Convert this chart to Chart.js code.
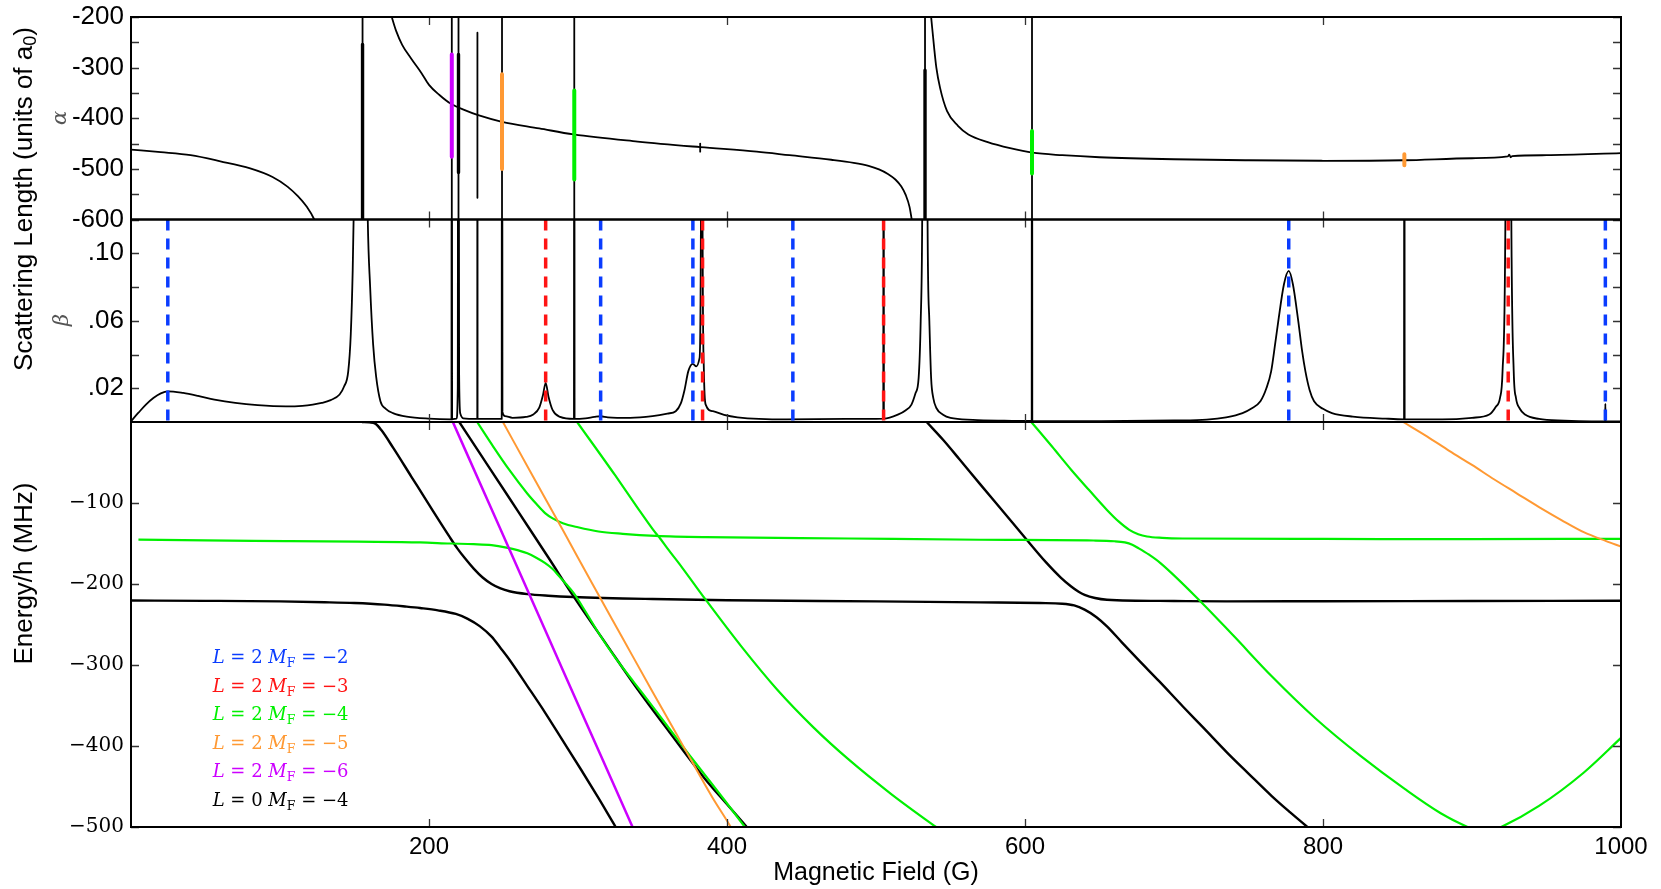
<!DOCTYPE html>
<html>
<head>
<meta charset="utf-8">
<script src="https://cdn.jsdelivr.net/npm/chart.js@4.4.1/dist/chart.umd.min.js"></script>
<style>
  html, body { margin: 0; padding: 0; background: #fff; }
  #wrap { position: relative; width: 1661px; height: 889px; }
</style>
</head>
<body>
<div id="wrap"><canvas id="chart" width="1661" height="889"></canvas></div>
<script>
// ---- axis ticks ----
const fieldTicks = [200, 400, 600, 800, 1000];
const alphaTicks = [-600, -550, -500, -450, -400, -350, -300, -250, -200];
const betaTicks = [0.02, 0.04, 0.06, 0.08, 0.10];
const energyTicks = [-500, -400, -300, -200, -100];

// ---- alpha (real part of scattering length), [B, alpha] ----
const alphaBelow = [[0,-462],[20,-467],[40,-473],[60,-485],[80,-499],[95,-516],[105,-535],[112,-554],[118,-575],[123,-600],[125,-615]];
const alphaMid = [[174,-190],[175,-200],[178,-228],[182,-255],[188,-282],[195,-311],[200,-334],[207,-354],[215,-372],[224,-384],[233,-394],[249,-407],[274,-420],[297,-432],[340,-446],[382,-457],[420,-466],[442,-473],[470,-482],[485,-488],[495,-494],[502,-501],[508,-510],[513,-521],[517,-535],[520,-552],[522.5,-575],[524,-600],[525,-615]];
const alphaAbove = [[536.5,-185],[537,-200],[539,-260],[540.5,-300],[543,-340],[547.7,-386],[555,-415],[562,-432],[575,-447],[590,-459],[605,-468],[625,-473],[650,-477],[700,-481],[750,-483],[800,-484],[854,-483],[900,-479],[924,-475.5],[925,-472],[926,-477],[927,-475],[950,-473],[1000,-469]];

// narrow resonances in alpha, [B, low, high]
const alphaL0Spikes = [[155.4,-600,-200],[215.3,-600,-200],[219.8,-600,-200],[232.5,-557,-231],[249.0,-600,-200],[297.5,-600,-200],[382.0,-466,-450],[532.9,-600,-200],[604.7,-600,-200]];
const alphaL0Cores = [[155.4,-600,-254],[219.8,-507,-274],[532.9,-600,-305]];
const alphaMF4Spikes = [[297.5,-521,-345],[604.7,-509,-425]];
const alphaMF5Spikes = [[249.0,-500,-313],[854.6,-493,-471]];
const alphaMF6Spikes = [[215.3,-476,-274]];

// ---- beta (imaginary part), [B, beta] ----
const betaCurve = [[0,0.0005],[5,0.0055],[10,0.0103],[15,0.0142],[20,0.0170],[24.7,0.0182],[35,0.0172],[45,0.0155],[56,0.0133],[70,0.0113],[85,0.0100],[104,0.0093],[115,0.0096],[122,0.0103],[128,0.0113],[134,0.0130],[140,0.0163],[143,0.0210],[145.8,0.0300],[147.5,0.0520],[148.8,0.0900],[149.4,0.1200],[151,0.2500],[154,0.6000],[157,0.2500],[158.9,0.1200],[160.5,0.0800],[162.5,0.0460],[164.5,0.0270],[167.4,0.0123],[171,0.0078],[175.8,0.0053],[185,0.0032],[199.7,0.0020],[215.1,0.0016],[215.3,0.5000],[215.5,0.0016],[218.5,0.0020],[219.3,0.0200],[219.7,0.5000],[220.2,0.0300],[221,0.0050],[223,0.0022],[232.4,0.0018],[232.5,0.5000],[232.6,0.0018],[248.8,0.0018],[249.0,0.5000],[249.3,0.0060],[251,0.0035],[256,0.0025],[265,0.0030],[270,0.0045],[274,0.0085],[276.5,0.0160],[278.3,0.0232],[280.2,0.0150],[283,0.0070],[288,0.0030],[297.3,0.0018],[297.5,0.5000],[297.7,0.0018],[305,0.0022],[311,0.0030],[315.2,0.0034],[320,0.0028],[335,0.0025],[350,0.0035],[360,0.0050],[365.6,0.0064],[369,0.0110],[371.5,0.0190],[374,0.0300],[377,0.0345],[379.4,0.0330],[381.6,0.0380],[382.5,0.1200],[383,0.5000],[383.6,0.1200],[384.5,0.0300],[385.7,0.0103],[390.5,0.0064],[398,0.0042],[407,0.0028],[440,0.0016],[480,0.0018],[504.9,0.0020],[505.1,0.5000],[505.3,0.0020],[515,0.0045],[520,0.0070],[523.8,0.0103],[526.5,0.0170],[528.6,0.0260],[530,0.0600],[531,0.1200],[533,0.6000],[534.6,0.1200],[535.8,0.0600],[537,0.0260],[538.5,0.0140],[540.5,0.0083],[545,0.0043],[550,0.0024],[565,0.0013],[586,0.0008],[604.5,0.0006],[604.7,0.5000],[604.9,0.0006],[620,0.0005],[650,0.0005],[700,0.0009],[722,0.0014],[735,0.0028],[746,0.0053],[752,0.0080],[758,0.0123],[762,0.0200],[765.2,0.0300],[768,0.0470],[770,0.0598],[773.8,0.0816],[777,0.0895],[779.8,0.0816],[783.4,0.0598],[786,0.0420],[788.2,0.0300],[791,0.0190],[794,0.0123],[800,0.0078],[806,0.0053],[820,0.0032],[842,0.0020],[854.4,0.0016],[854.6,0.5000],[854.8,0.0016],[880,0.0016],[900,0.0025],[911.6,0.0044],[916,0.0090],[918.8,0.0143],[920.5,0.0300],[922.4,0.1200],[924.3,0.6000],[926.4,0.1200],[928,0.0300],[929.5,0.0143],[932,0.0080],[935.6,0.0044],[945,0.0018],[962,0.0008],[980,0.0004],[989.3,0.0004],[989.5,0.0107],[989.7,0.0004],[1000,0.0003]];

// resonance positions by channel (dashed markers)
const markersMF2 = [24.7, 315.2, 377.1, 444.2, 777.0, 989.5];
const markersMF3 = [278.3, 383.6, 505.1, 924.3];

// ---- bound-state energies, [B, E/h in MHz] ----
const energyL0a = [[0,-220.4],[50,-220.8],[100,-221.5],[130,-222.5],[150,-223.5],[170,-225.5],[185,-228],[194,-229.7],[206,-232.5],[218,-237],[226,-243],[234,-252],[242,-265],[248,-279],[254,-293.5],[266,-326],[278,-359],[290,-394],[302,-429],[314,-465],[325.3,-500],[330,-514]];
const energyL0b = [[155,0],[160,-0.4],[164,-2],[168,-10],[176,-32],[188,-67],[200,-102],[207,-122.5],[213.5,-141],[219,-156],[224,-168],[230,-181],[236,-192],[242,-200],[248,-205.5],[254,-209],[266,-212.5],[280,-214.5],[297,-216],[350,-218.5],[400,-220],[500,-221.5],[570,-222.7],[610,-223.5],[625,-224.3],[633,-226.5],[640,-231.7],[648,-241],[655,-252.3],[665,-272],[676,-293.4],[690,-320],[705.8,-350.9],[720,-378],[735.8,-408.4],[750,-434],[765.6,-461.8],[778,-482],[789.5,-500],[796,-511]];
const energyL0c = [[220.3,0],[240,-55],[260,-111],[280,-167],[297,-215.3],[320,-277],[340,-330],[361.7,-383.7],[385,-440],[400,-472],[413.3,-500],[418,-510]];
const energyL0d = [[534,0],[545,-22],[556,-46],[570,-77],[586,-112],[601,-145],[614,-173],[624,-192],[631,-203],[636,-209.5],[640,-213.3],[647,-217.3],[655,-219.4],[700,-221],[735.8,-221.5],[800,-221.3],[900,-221],[1000,-220.6]];
const energyMF4a = [[5,-145.3],[50,-146.2],[104,-147],[152,-147.8],[194,-148.7],[214,-150],[230,-150.8],[242,-152],[252,-155],[260,-158.5],[266,-162],[272,-167.5],[278,-174.2],[283,-181.5],[287.4,-190.6],[292,-200],[297,-211],[305,-234],[313.8,-260.5],[325,-291],[337.8,-322],[350,-351],[361.7,-379.6],[373,-407],[385.7,-437],[398,-466],[412,-500],[416,-510]];
const energyMF4b = [[232.3,0],[243,-30],[253.9,-59.2],[265.8,-87.9],[272,-101],[277.9,-112.5],[283,-119],[289.8,-124.9],[300,-130],[313.8,-135.2],[330,-138],[352.1,-140.5],[385.7,-142.1],[481.6,-143.8],[569.8,-145.4],[646,-146.3],[660,-147.2],[667,-148.7],[672,-151.5],[676,-155.6],[683,-163.5],[690.9,-174.2],[717.8,-221.5],[740,-264],[765.6,-313.9],[795,-366],[825.4,-412.5],[855.3,-453.6],[879,-483],[897,-500],[908,-508],[919.6,-500],[945,-474],[974.9,-433],[1000,-390]];
const energyMF4c = [[299.4,0],[325,-66],[340,-106],[350,-132],[352.5,-138],[355,-143.5],[360,-156],[370,-180],[385.7,-219.4],[410,-278],[433.6,-330.3],[458,-377],[481.6,-416.6],[510,-459],[540.3,-500],[548,-510]];
const energyMF4d = [[604.2,0],[618,-30],[631.1,-59.2],[643,-84],[655,-108.5],[663,-123],[670,-133.1],[676,-138.5],[681.9,-141.4],[692,-143],[705.8,-143.8],[800,-144.4],[900,-144.6],[1000,-144.2]];
const energyMF5a = [[249.6,0],[270,-68],[290,-134],[310,-201],[330,-267],[350,-333],[370,-398],[390,-463],[402.5,-500],[406,-512]];
const energyMF5b = [[853.8,0],[870,-18],[885,-36],[900,-53],[915,-71],[930,-88],[945,-105],[960,-121],[975,-136],[990,-147],[1000,-153.7]];
const energyMF6 = [[216,0],[240,-99.5],[265,-203],[290,-307],[315,-410.5],[336.6,-500],[340,-514]];

// legend rows: [L, M_F]
const legendRows = [['2', '\u22122'], ['2', '\u22123'], ['2', '\u22124'], ['2', '\u22125'], ['2', '\u22126'], ['0', '\u22124']];

// ---- styling ----
const C_MF2 = '#0a3cff';
const C_MF3 = '#ff1414';
const C_MF4 = '#00f000';
const C_MF5 = '#ff9933';
const C_MF6 = '#cc00ff';
const C_L0 = '#000000';
const legendColors = [C_MF2, C_MF3, C_MF4, C_MF5, C_MF6, C_L0];

const SANS = '"Liberation Sans", Arial, Helvetica, sans-serif';
const SERIF = '"DejaVu Serif", "Liberation Serif", serif';

function curve(list, axis, color, width, order, smooth) {
  const ds = {
    data: list.map(p => ({ x: p[0], y: p[1] })),
    yAxisID: axis,
    borderColor: color,
    borderWidth: width,
    borderJoinStyle: 'round',
    pointRadius: 0,
    tension: 0,
    fill: false,
    order: order
  };
  if (smooth) ds.cubicInterpolationMode = 'monotone';
  return ds;
}

function spikes(list, axis, color, width, order) {
  return list.map(s => curve([[s[0], s[2]], [s[0], s[1]]], axis, color, width, order, false));
}

function markers(list, color) {
  return list.map(b => Object.assign(curve([[b, 0.12], [b, 0]], 'beta', color, 3.5, 0, false), { borderDash: [11, 8] }));
}

const datasets = [].concat(
  markers(markersMF2, C_MF2),
  markers(markersMF3, C_MF3),
  spikes(alphaMF4Spikes, 'alpha', C_MF4, 4, 1),
  spikes(alphaMF5Spikes, 'alpha', C_MF5, 4, 1),
  spikes(alphaMF6Spikes, 'alpha', C_MF6, 4, 1),
  spikes(alphaL0Cores, 'alpha', C_L0, 3.4, 2),
  spikes(alphaL0Spikes, 'alpha', C_L0, 1.8, 3),
  [
    curve(alphaBelow, 'alpha', C_L0, 1.8, 3, true),
    curve(alphaMid, 'alpha', C_L0, 1.8, 3, true),
    curve(alphaAbove, 'alpha', C_L0, 1.8, 3, true),
    curve(betaCurve, 'beta', C_L0, 1.8, 3, true),
    curve(energyMF6, 'energy', C_MF6, 2.5, 1, true),
    curve(energyMF5a, 'energy', C_MF5, 2, 1, true),
    curve(energyMF5b, 'energy', C_MF5, 2, 1, true),
    curve(energyMF4a, 'energy', C_MF4, 2.2, 1, true),
    curve(energyMF4b, 'energy', C_MF4, 2.2, 1, true),
    curve(energyMF4c, 'energy', C_MF4, 2.2, 1, true),
    curve(energyMF4d, 'energy', C_MF4, 2.2, 1, true),
    curve(energyL0a, 'energy', C_L0, 2.4, 3, true),
    curve(energyL0b, 'energy', C_L0, 2.4, 3, true),
    curve(energyL0c, 'energy', C_L0, 2.4, 3, true),
    curve(energyL0d, 'energy', C_L0, 2.4, 3, true)
  ]
);

// keep each dataset inside its own panel
const panelClip = {
  id: 'panelClip',
  beforeDatasetDraw(chart, args) {
    const ys = chart.scales[args.meta.yAxisID];
    const xs = chart.scales.x;
    const ctx = chart.ctx;
    ctx.save();
    ctx.beginPath();
    ctx.rect(xs.left, ys.top, xs.right - xs.left, ys.bottom - ys.top);
    ctx.clip();
  },
  afterDatasetDraw(chart) {
    chart.ctx.restore();
  }
};

// panel frames with inward tick marks on all four sides
const panelFrame = {
  id: 'panelFrame',
  afterDatasetsDraw(chart) {
    const ctx = chart.ctx;
    const xs = chart.scales.x;
    const panels = [['alpha', alphaTicks], ['beta', betaTicks], ['energy', energyTicks]];
    const len = 8;
    ctx.save();
    ctx.lineCap = 'butt';
    for (const [id, ticks] of panels) {
      const ys = chart.scales[id];
      ctx.strokeStyle = '#333';
      ctx.lineWidth = 1.3;
      ctx.beginPath();
      for (const v of ticks) {
        const py = Math.round(ys.getPixelForValue(v)) + 0.5;
        ctx.moveTo(xs.left, py); ctx.lineTo(xs.left + len, py);
        ctx.moveTo(xs.right, py); ctx.lineTo(xs.right - len, py);
      }
      for (const v of fieldTicks) {
        if (v >= 1000) continue;
        const px = Math.round(xs.getPixelForValue(v)) + 0.5;
        ctx.moveTo(px, ys.top); ctx.lineTo(px, ys.top + len);
        ctx.moveTo(px, ys.bottom); ctx.lineTo(px, ys.bottom - len);
      }
      ctx.stroke();
      ctx.strokeStyle = '#000';
      ctx.lineWidth = 2;
      ctx.strokeRect(xs.left, ys.top, xs.right - xs.left, ys.bottom - ys.top);
    }
    ctx.restore();
  }
};

function drawParts(ctx, parts, x, y, centered) {
  let total = 0;
  for (const p of parts) { ctx.font = p[1]; total += ctx.measureText(p[0]).width; }
  let cx = centered ? x - total / 2 : x;
  for (const p of parts) {
    ctx.font = p[1];
    ctx.fillText(p[0], cx, y + (p[2] || 0));
    cx += ctx.measureText(p[0]).width;
  }
}

function rotated(ctx, x, y, fn) {
  ctx.save();
  ctx.translate(x, y);
  ctx.rotate(-Math.PI / 2);
  fn();
  ctx.restore();
}

// axis titles, panel symbols and the channel legend
const axisText = {
  id: 'axisText',
  afterDraw(chart) {
    const ctx = chart.ctx;
    ctx.save();
    ctx.textAlign = 'left';
    ctx.textBaseline = 'alphabetic';
    ctx.fillStyle = '#000';
    const sans = s => s + 'px ' + SANS;
    drawParts(ctx, [['Magnetic Field (G)', sans(25)]], 876, 880, true);
    rotated(ctx, 32, 199, () => drawParts(ctx, [['Scattering Length (units of a', sans(26)], ['0', sans(18), 4], [')', sans(26)]], 0, 0, true));
    rotated(ctx, 32, 573.5, () => drawParts(ctx, [['Energy/h (MHz)', sans(26)]], 0, 0, true));
    ctx.fillStyle = '#555';
    rotated(ctx, 66, 118, () => drawParts(ctx, [['\u03b1', 'italic 21px ' + SERIF]], 0, 0, true));
    rotated(ctx, 68, 320, () => drawParts(ctx, [['\u03b2', 'italic 21px ' + SERIF]], 0, 0, true));

    const it = 'italic 18px ' + SERIF;
    const rm = '18px ' + SERIF;
    const sub = '12.5px ' + SERIF;
    legendRows.forEach((row, i) => {
      ctx.fillStyle = legendColors[i];
      drawParts(ctx, [
        ['L', it], [' = ', rm], [row[0], rm], [' ', rm], ['M', it], ['F', sub, 4], [' = ', rm], [row[1], rm]
      ], 212.7, 663 + i * 28.6, false);
    });
    ctx.restore();
  }
};

function fixedTicks(list) {
  return scale => { scale.ticks = list.map(v => ({ value: v })); };
}

// fixed axis box, no extra room reserved for edge labels
function fixedBox(size, vertical) {
  return scale => {
    if (vertical) scale.width = size; else scale.height = size;
    scale.paddingTop = 0; scale.paddingBottom = 0;
    scale.paddingLeft = 0; scale.paddingRight = 0;
  };
}

const hidden = { display: false, drawTicks: false };

new Chart(document.getElementById('chart'), {
  type: 'line',
  data: { datasets: datasets },
  options: {
    responsive: false,
    animation: false,
    events: [],
    layout: { padding: { top: 17, right: 40, bottom: 0, left: 0 } },
    plugins: { legend: { display: false }, tooltip: { enabled: false } },
    scales: {
      x: {
        type: 'linear', position: 'bottom', min: 0, max: 1000,
        grid: hidden, border: { display: false },
        afterBuildTicks: fixedTicks(fieldTicks),
        afterFit: fixedBox(62, false),
        ticks: { autoSkip: false, maxRotation: 0, padding: 6, color: '#000', font: { family: SANS, size: 24 }, callback: v => String(v) }
      },
      alpha: {
        type: 'linear', position: 'left', stack: 'panels', stackWeight: 1, weight: 3,
        min: -600, max: -200,
        grid: hidden, border: { display: false },
        afterBuildTicks: fixedTicks(alphaTicks),
        afterFit: fixedBox(131, true),
        ticks: { autoSkip: false, padding: 7, color: '#000', font: { family: SANS, size: 26 }, callback: v => (v % 100 === 0 ? String(v) : '') }
      },
      beta: {
        type: 'linear', position: 'left', stack: 'panels', stackWeight: 1, weight: 2,
        min: 0, max: 0.12,
        grid: hidden, border: { display: false },
        afterBuildTicks: fixedTicks(betaTicks),
        afterFit: fixedBox(131, true),
        ticks: { autoSkip: false, padding: 7, color: '#000', font: { family: SANS, size: 26 }, callback: (v, i) => (i % 2 === 0 ? v.toFixed(2).slice(1) : '') }
      },
      energy: {
        type: 'linear', position: 'left', stack: 'panels', stackWeight: 2, weight: 1,
        min: -500, max: 0,
        grid: hidden, border: { display: false },
        afterBuildTicks: fixedTicks(energyTicks),
        afterFit: fixedBox(131, true),
        ticks: { autoSkip: false, padding: 7, color: '#000', font: { family: SERIF, size: 20 }, callback: v => '\u2212' + Math.abs(v) }
      }
    }
  },
  plugins: [panelClip, panelFrame, axisText]
});
</script>
</body>
</html>
